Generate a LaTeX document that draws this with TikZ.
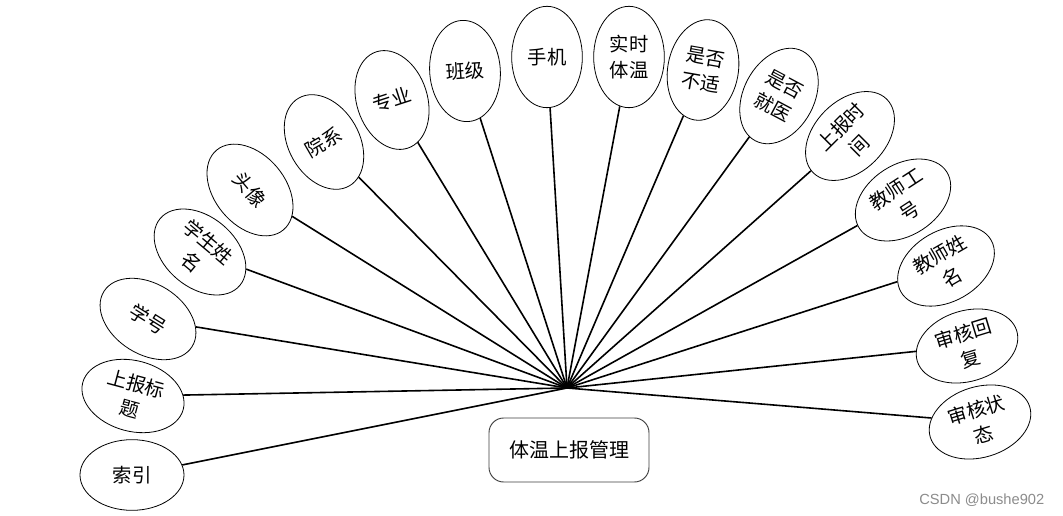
\documentclass[tikz,border=0pt]{standalone}
\usepackage{fontspec}
\newfontfamily\cjk{Noto Sans CJK SC}
\newfontfamily\wmfont{Liberation Sans}
\usetikzlibrary{shapes.geometric}
\begin{document}
\begin{tikzpicture}[x=0.75pt,y=-0.75pt,
  attr/.style={ellipse, draw=black, fill=white, line width=0.6pt, inner sep=0pt, align=center,
               font=\cjk\fontsize{14.5}{19.5}\selectfont},
  wide/.style={attr, minimum width=78pt, minimum height=53pt},
  tall/.style={attr, minimum width=53pt, minimum height=76pt},
  link/.style={line width=1.2pt, black},
  mainbox/.style={draw=black!75, line width=0.7pt, rounded corners=11pt, minimum width=120pt,
               minimum height=48pt, font=\cjk\fontsize{15}{18}\selectfont}]
\useasboundingbox (0,0) rectangle (1063,516);
\fill[white] (0,0) rectangle (1063,516);
\coordinate (hub) at (567,388);

\node[wide, rotate=0]   (n1)  at (132,475) {索引};
\node[wide, rotate=-15] (n2)  at (133,396) {上报标\\题};
\node[wide, rotate=-32] (n3)  at (148,319) {学号};
\node[wide, rotate=-40] (n4)  at (200,252) {学生姓\\名};
\node[wide, rotate=-50] (n5)  at (250,190) {头像};
\node[tall, rotate=30]  (n6)  at (324,142) {院系};
\node[tall, rotate=18]  (n7)  at (392,100) {专业};
\node[tall, rotate=4]   (n8)  at (465,71)  {班级};
\node[tall, rotate=0]   (n9)  at (547,57)  {手机};
\node[tall, rotate=0]   (n10) at (629,57)  {实时\\体温};
\node[tall, rotate=-10] (n11) at (703,70)  {是否\\不适};
\node[tall, rotate=-28] (n12) at (779,96)  {是否\\就医};
\node[wide, rotate=45]  (n13) at (850,136) {上报时\\间};
\node[wide, rotate=33]  (n14) at (903,200) {教师工\\号};
\node[wide, rotate=30]  (n15) at (946,266) {教师姓\\名};
\node[wide, rotate=17]  (n16) at (967,346) {审核回\\复};
\node[wide, rotate=17]  (n17) at (980,422) {审核状\\态};

\foreach \n in {n1,n2,n3,n4,n5,n6,n7,n8,n9,n10,n11,n12,n13,n14,n15,n16,n17}
  \draw[link] (hub) -- (\n);

\node[mainbox] (main) at (569,450) {体温上报管理};

\node[anchor=east, text=black!45, font=\wmfont\fontsize{11}{12}\selectfont] (wm) at (1049,500) {CSDN @bushe902};
\end{tikzpicture}
\end{document}
